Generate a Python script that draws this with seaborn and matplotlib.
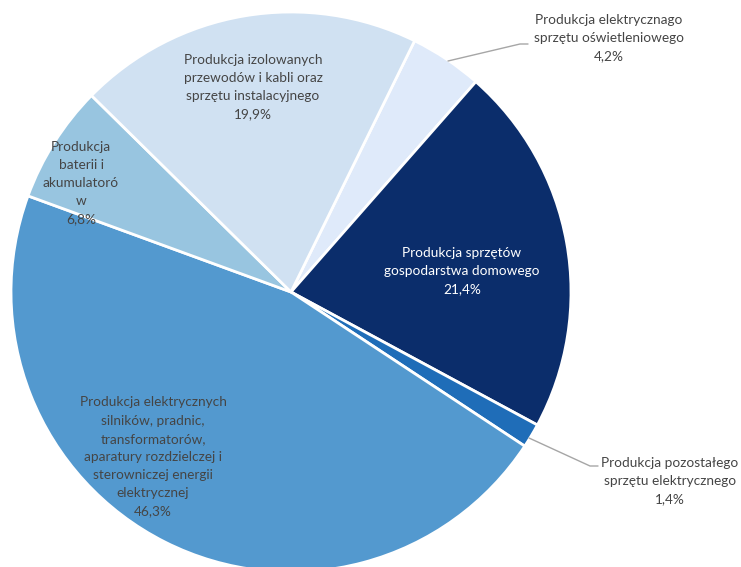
import numpy as np
import seaborn as sns
import matplotlib.pyplot as plt

sns.set_theme(style='white')
plt.rcParams['font.family'] = ['Lato', 'DejaVu Sans']

# slices, clockwise starting from the small light wedge at the top
labels = ['Produkcja elektrycznago\nsprzętu oświetleniowego\n4,2%',
          'Produkcja sprzętów\ngospodarstwa domowego\n21,4%',
          'Produkcja pozostałego\nsprzętu elektrycznego\n1,4%',
          'Produkcja elektrycznych\nsilników, pradnic,\ntransformatorów,\naparatury rozdzielczej i\nsterowniczej energii\nelektrycznej\n46,3%',
          'Produkcja\nbaterii i\nakumulatoró\nw\n6,8%',
          'Produkcja izolowanych\nprzewodów i kabli oraz\nsprzętu instalacyjnego\n19,9%']
shares = [4.2, 21.4, 1.4, 46.3, 6.8, 19.9]
colors = ['#dfeafa', '#0b2d6b', '#1f6db8', '#5399cf', '#98c5e0', '#d0e1f2']

W, H = 741, 567
cx, cy, r = 291, 292, 280
fig = plt.figure(figsize=(W / 100, H / 100), dpi=100)
ax = fig.add_axes([(cx - r) / W, (H - cy - r) / H, 2 * r / W, 2 * r / H])

ax.pie(shares, colors=colors, startangle=63.8, counterclock=False,
       wedgeprops={'edgecolor': 'white', 'linewidth': 2})
ax.set_xlim(-1, 1)
ax.set_ylim(-1, 1)
ax.axis('off')


def px(x, y):
    # pixel position -> data coords of the pie axes
    return (x - cx) / r, (cy - y) / r


txt = '#454545'
# label positions in pixels (center of text block)
pos = [(609, 38), (462, 271), (670, 481), (153, 457), (81, 183), (253, 87)]
tcol = [txt, 'white', txt, txt, txt, txt]
for lab, (x, y), c in zip(labels, pos, tcol):
    ax.text(*px(x, y), lab, ha='center', va='center', color=c, fontsize=9.8,
            linespacing=1.62, clip_on=False)

# leader lines
for pts in [[(448, 61), (520, 44), (528, 44)], [(529, 438), (590, 466), (598, 466)]]:
    xs, ys = zip(*[px(*p) for p in pts])
    ax.plot(xs, ys, color='#a6a6a6', lw=1, clip_on=False)

fig.savefig('out.png', dpi=100)
